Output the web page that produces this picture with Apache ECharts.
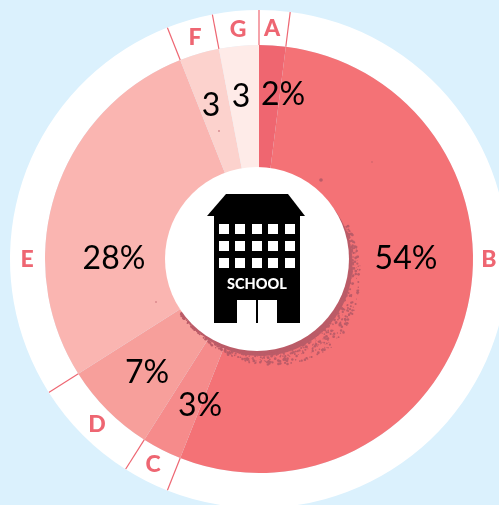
<!DOCTYPE html>
<html>
<head>
<meta charset="utf-8">
<style>
html,body{margin:0;padding:0;background:#dbf1fd;}
#box{width:499px;height:505px;overflow:hidden;}
</style>
<script src="https://cdn.jsdelivr.net/npm/echarts@6/dist/echarts.min.js"></script>
</head>
<body>
<div id="box"></div>
<script>
/*数据*/
var categories = ['A', 'B', 'C', 'D', 'E', 'F', 'G'];
var values = [2, 54, 3, 7, 28, 3, 3];
var valueLabels = ['2%', '54%', '3%', '7%', '28%', '3', '3'];

/*样式*/
var sliceColors = ['#ef6670', '#f47276', '#f68b8b', '#f79f9b', '#fab5b1', '#fcd2cd', '#feebe8'];
var labelPos = [[283, 95], [406, 259], [200, 406], [147, 373], [114, 259], [211, 106], [241, 97]];
var namePos = [[272, 29], [489, 260], [153, 465], [97, 425], [27, 260], [195, 38], [238, 30]];
var cx = 259, cy = 259, donutR = 214, ringR = 249;
var pink = '#ee6672', splat = '#bb5c68';

var pieData = [], ringData = [];
categories.forEach(function(name, i){
    pieData.push({value: values[i], name: name, itemStyle: {color: sliceColors[i]},
        label: {formatter: valueLabels[i]}});
    ringData.push({value: values[i], name: name});
});

/*扇区之间的分隔线*/
var lineSeries = [];
var total = 0;
values.forEach(function(v){
    lineSeries.push({
        type: 'line',
        coordinateSystem: 'polar',
        silent: true,
        symbol: 'none',
        lineStyle: {color: pink, width: 1.2},
        data: [[donutR, total], [ringR, total]],
        z: 5
    });
    total += v;
});

/*学校图标*/
var graphics = [];
function addRect(x, y, w, h, fill){
    graphics.push({type: 'rect', z: 20, silent: true, shape: {x: x, y: y, width: w, height: h}, style: {fill: fill}});
}
function addDot(x, y, r){
    graphics.push({type: 'circle', z: 18, silent: true, shape: {cx: x, cy: y, r: r}, style: {fill: splat}});
}
function frac(n){
    var h = Math.sin(n * 12.9898) * 43758.5453;
    return h - Math.floor(h);
}
// 圆后面的喷溅
graphics.push({type: 'circle', z: 18, silent: true, shape: {cx: 260.5, cy: 264, r: 92}, style: {fill: splat}});
for (var s = 1; s <= 900; s++) {
    var t = frac(s);
    var a = (-20 + 165 * t) * Math.PI / 180;
    var spread = Math.max(0.15, 1 - Math.abs(t - 0.42) * 1.8);
    var r = 91 + 25 * spread * Math.pow(frac(s + 0.37), 1.3);
    addDot(257 + r * Math.cos(a), 259 + r * Math.sin(a), 0.4 + frac(s + 0.71) * 1.0);
}
addDot(321, 180, 1.8);
addDot(372, 162, 0.7);
addDot(156, 302, 0.7);
addDot(219, 131, 0.8);
graphics.push({type: 'circle', z: 19, silent: true, shape: {cx: 257, cy: 259, r: 92}, style: {fill: '#ffffff'}});
graphics.push({type: 'polygon', z: 20, silent: true,
    shape: {points: [[226, 194], [288, 194], [305, 216], [207, 216]]}, style: {fill: '#000000'}});
addRect(214, 216, 86, 107, '#000000');
[219, 235, 252, 268, 285].forEach(function(x){
    [224, 241, 258].forEach(function(y){
        addRect(x, y, 10, 10, '#ffffff');
    });
});
addRect(237, 300, 19, 23, '#ffffff');
addRect(258, 300, 19, 23, '#ffffff');
graphics.push({type: 'text', z: 21, silent: true, x: 257, y: 284,
    style: {text: 'SCHOOL', fill: '#ffffff', font: '900 14.5px Lato', textAlign: 'center', textVerticalAlign: 'middle'}});

var myChart = echarts.init(document.getElementById('box'), null, {renderer: 'canvas'});
var option = {
    backgroundColor: '#dbf1fd',
    animation: false,
    polar: {center: [cx, cy], radius: ringR},
    angleAxis: {min: 0, max: 100, startAngle: 90, show: false},
    radiusAxis: {min: 0, max: ringR, show: false},
    graphic: graphics,
    series: [
        {
            name: 'ring',
            type: 'pie',
            center: [cx, cy],
            radius: [donutR, ringR],
            startAngle: 90,
            silent: true,
            data: ringData,
            itemStyle: {color: '#ffffff'},
            label: {
                position: 'inside',
                formatter: '{b}',
                color: pink,
                fontFamily: 'Lato',
                fontWeight: 900,
                fontSize: 23
            },
            labelLine: {show: false},
            labelLayout: function(params){
                var p = namePos[params.dataIndex];
                return {x: p[0], y: p[1], align: 'center', verticalAlign: 'middle'};
            },
            z: 1
        },
        {
            name: 'share',
            type: 'pie',
            center: [cx, cy],
            radius: [88, donutR],
            startAngle: 90,
            silent: true,
            data: pieData,
            label: {
                position: 'inside',
                color: '#000000',
                fontFamily: 'Lato',
                fontSize: 32
            },
            labelLine: {show: false},
            labelLayout: function(params){
                var p = labelPos[params.dataIndex];
                return {x: p[0], y: p[1], align: 'center', verticalAlign: 'middle'};
            },
            z: 2
        }
    ].concat(lineSeries)
};
myChart.setOption(option);
</script>
</body>
</html>
